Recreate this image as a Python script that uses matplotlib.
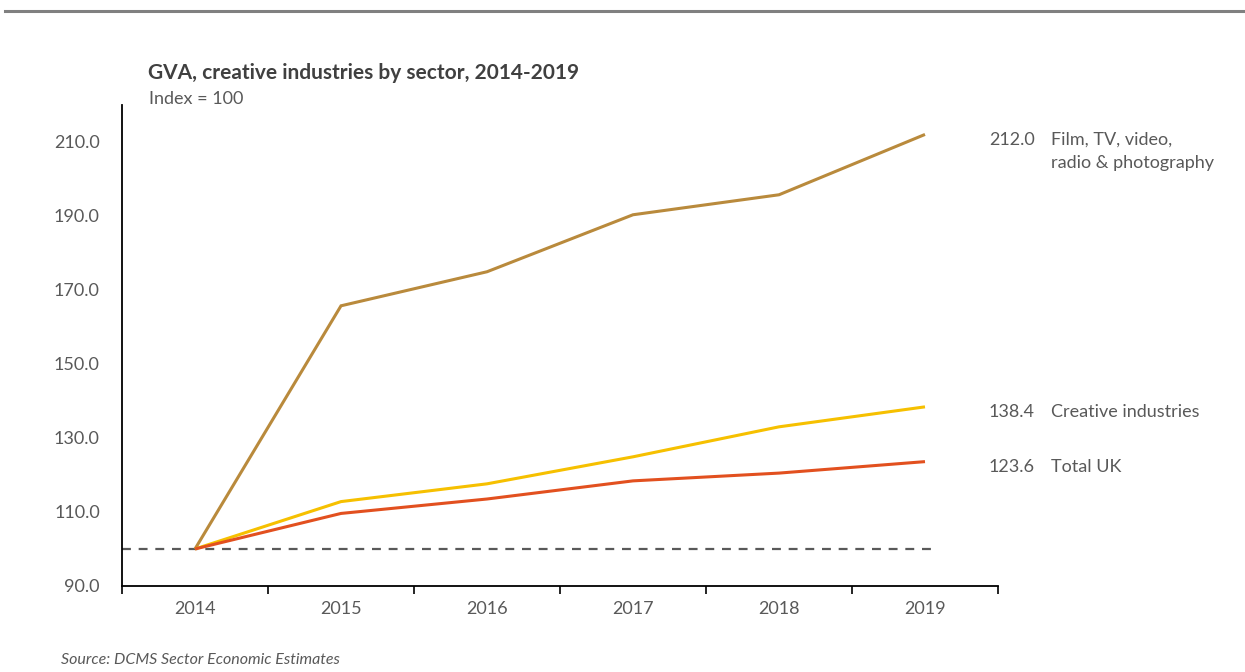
import numpy as np
import matplotlib
matplotlib.use('Agg')
import matplotlib.pyplot as plt

plt.rcParams['font.family'] = ['Lato', 'DejaVu Sans']

# ── Data ──────────────────────────────────────────────────────────────────────
years = ['2014', '2015', '2016', '2017', '2018', '2019']
film = [100.0, 165.7, 174.9, 190.3, 195.7, 212.0]
creative = [100.0, 112.8, 117.6, 124.9, 133.0, 138.4]
total_uk = [100.0, 109.6, 113.5, 118.4, 120.5, 123.6]

series = [
    ('Film, TV, video,\nradio & photography', film, '#b98a3c'),
    ('Creative industries', creative, '#f6c000'),
    ('Total UK', total_uk, '#e2501f'),
]

TEXT_C = '#595959'
FS = 13

fig = plt.figure(figsize=(12.45, 6.72), dpi=100, facecolor='white')
ax = fig.add_axes([0.098, 0.128, 0.7036, 0.716])

x = np.arange(len(years))

# baseline at index 100
ax.hlines(100, -0.5, 5.06, colors=TEXT_C, linestyles=(0, (4, 3.5)), linewidth=1.6, zorder=2)

for name, vals, col in series:
    ax.plot(x, vals, color=col, linewidth=2.2, solid_capstyle='butt',
            solid_joinstyle='miter', zorder=3)
    end = vals[-1]
    ax.annotate(f'{end:.1f}', xy=(x[-1], end), xytext=(46, -4),
                textcoords='offset points', ha='left', va='center',
                fontsize=FS, color=TEXT_C, annotation_clip=False)
    # series name, one text per line
    for i, line in enumerate(name.split('\n')):
        ax.annotate(line, xy=(x[-1], end), xytext=(91, -4 - i * 16.5),
                    textcoords='offset points', ha='left', va='center',
                    fontsize=FS, color=TEXT_C, annotation_clip=False)

ax.set_xlim(-0.5, 5.5)
ax.set_ylim(90, 220)
yt = np.arange(90, 211, 20)
ax.set_yticks(yt)
ax.set_yticklabels([f'{v:.1f}' for v in yt])
ax.set_xticks(x)
ax.set_xticklabels(years)
ax.set_xticks(np.arange(-0.5, 5.6, 1), minor=True)
ax.tick_params(axis='x', which='major', length=0, pad=11, labelsize=FS, labelcolor=TEXT_C)
ax.tick_params(axis='x', which='minor', length=6, width=1.2, color='black')
ax.tick_params(axis='y', length=0, pad=16, labelsize=FS, labelcolor=TEXT_C)

for s in ['top', 'right']:
    ax.spines[s].set_visible(False)
for s in ['left', 'bottom']:
    ax.spines[s].set_color('black')
    ax.spines[s].set_linewidth(1.3)

# title block
fig.text(148 / 1245, 1 - 73 / 672, 'GVA, creative industries by sector, 2014-2019',
         fontsize=15, fontweight='bold', color='#404040', va='center', ha='left')
fig.text(149 / 1245, 1 - 99 / 672, 'Index = 100', fontsize=FS,
         color=TEXT_C, va='center', ha='left')

fig.text(61 / 1245, 1 - 660 / 672, 'Source: DCMS Sector Economic Estimates',
         fontsize=11.5, style='italic', color=TEXT_C, va='center', ha='left')

# rule across the top
fig.add_artist(plt.Line2D([0.004, 1.0], [1 - 11 / 672] * 2, color='#808080',
                          linewidth=2.2, transform=fig.transFigure))

fig.savefig('out.png', dpi=100, facecolor='white')
